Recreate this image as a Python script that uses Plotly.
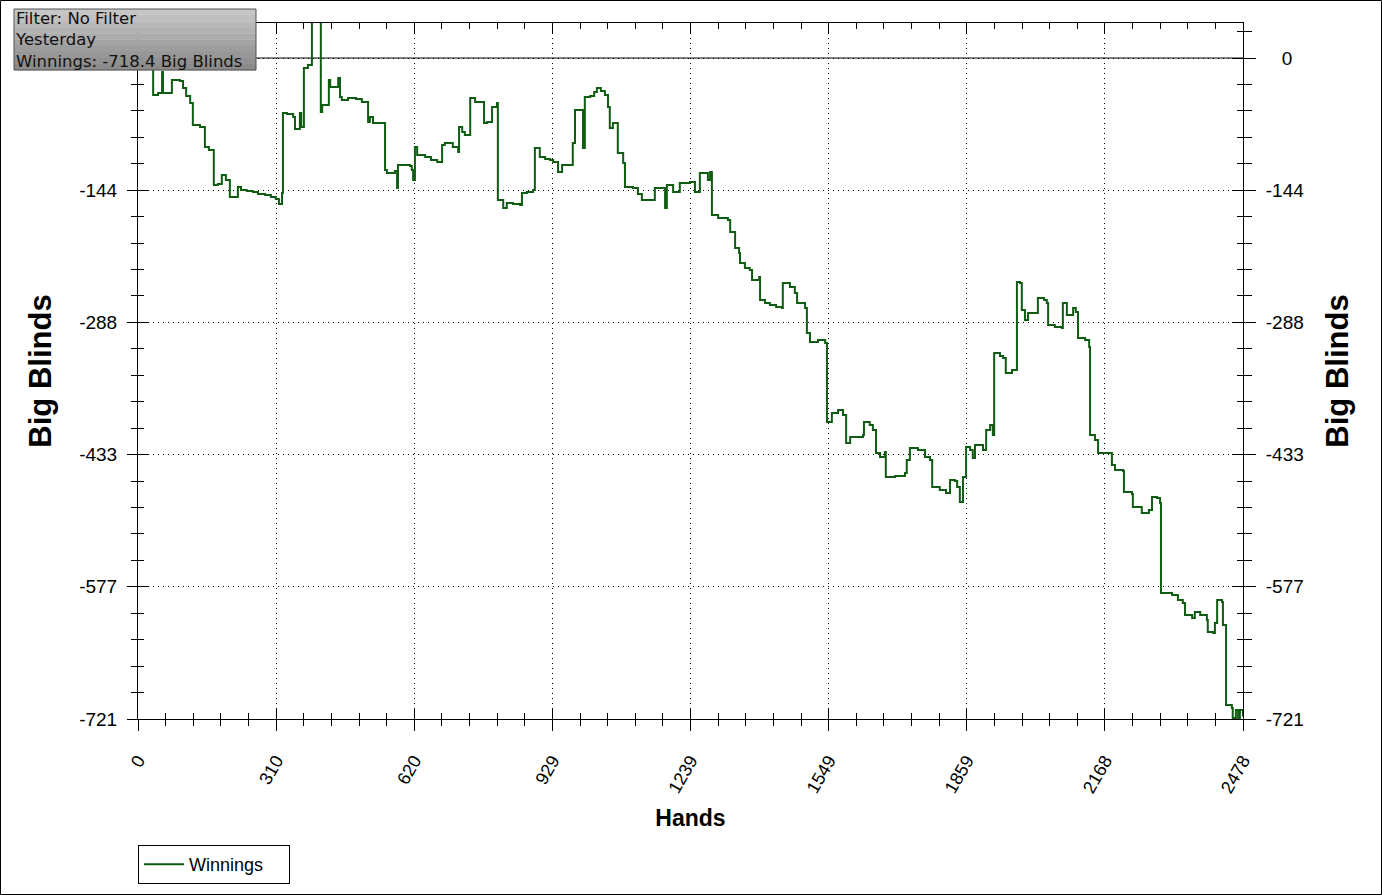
import plotly.graph_objects as go

# ---- data (hand index where the running total changes, new total in big blinds) ----
hands = [0, 9, 18, 27, 34, 45, 54, 56, 76, 94, 101, 108, 117, 123, 139, 150, 159, 170, 179, 188,
         197, 206, 224, 231, 244, 258, 269, 285, 298, 309, 316, 323, 325, 334, 348, 352, 363, 366,
         372, 381, 390, 410, 413, 428, 431, 449, 453, 457, 471, 489, 502, 516, 520, 527, 554, 558,
         576, 581, 583, 610, 614, 617, 621, 626, 644, 657, 671, 682, 688, 706, 718, 720, 727, 733,
         745, 756, 776, 783, 794, 805, 807, 819, 827, 841, 857, 861, 872, 886, 890, 901, 913, 924,
         931, 942, 951, 975, 980, 998, 1002, 1014, 1023, 1029, 1038, 1047, 1054, 1058, 1065, 1076,
         1088, 1092, 1110, 1121, 1130, 1159, 1182, 1186, 1200, 1215, 1238, 1249, 1260, 1278, 1283,
         1287, 1301, 1323, 1328, 1339, 1348, 1350, 1361, 1372, 1377, 1393, 1395, 1406, 1417, 1431,
         1444, 1446, 1462, 1473, 1478, 1496, 1500, 1507, 1525, 1541, 1545, 1556, 1570, 1581, 1588,
         1597, 1626, 1628, 1641, 1648, 1655, 1664, 1675, 1677, 1698, 1720, 1724, 1731, 1749, 1765,
         1776, 1781, 1798, 1812, 1821, 1832, 1837, 1843, 1850, 1857, 1866, 1872, 1877, 1895, 1902,
         1911, 1917, 1920, 1933, 1940, 1946, 1960, 1971, 1978, 1982, 1989, 1996, 2018, 2032, 2038,
         2041, 2056, 2072, 2074, 2083, 2097, 2103, 2108, 2124, 2133, 2135, 2146, 2153, 2184, 2191,
         2209, 2211, 2229, 2231, 2251, 2267, 2274, 2285, 2292, 2294, 2319, 2332, 2343, 2348, 2364,
         2370, 2382, 2397, 2399, 2411, 2415, 2420, 2431, 2433, 2440, 2453, 2455, 2462, 2467, 2471,
         2478]
winnings = [0, -4.4, -8.7, -10.9, -40.4, -38.2, -15.3, -38.2, -24.0, -25.1, -32.7, -41.5, -49.1,
            -73.1, -75.3, -97.1, -100.4, -138.5, -137.4, -127.6, -133.1, -151.6, -140.7, -144.0,
            -145.1, -146.2, -148.3, -149.4, -151.6, -153.8, -159.3, -147.3, -60.0, -61.1, -64.4,
            -77.4, -60.0, -75.3, -10.9, -7.6, 46.9, -58.9, -51.3, -24.0, -31.6, -21.8, -42.5, -45.8,
            -43.6, -44.7, -48.0, -69.8, -64.4, -70.9, -122.2, -125.4, -123.3, -141.8, -116.7, -117.8,
            -122.2, -133.1, -97.1, -105.8, -108.0, -111.3, -113.4, -94.9, -92.7, -97.1, -102.5,
            -75.3, -80.7, -84.0, -43.6, -48.0, -70.9, -69.8, -53.4, -49.1, -154.9, -163.6, -158.2,
            -159.3, -160.3, -147.3, -146.2, -144.0, -98.2, -108.0, -110.2, -111.3, -113.4, -124.4,
            -116.7, -92.7, -56.7, -98.2, -42.5, -41.5, -37.1, -32.7, -36.0, -40.4, -53.4, -76.4,
            -70.9, -103.6, -114.5, -140.7, -141.8, -148.3, -154.9, -141.8, -163.6, -138.5, -146.2,
            -136.4, -135.3, -146.2, -125.4, -133.1, -124.4, -171.3, -174.5, -176.7, -189.8, -207.3,
            -212.7, -223.6, -229.1, -231.2, -242.2, -238.9, -264.0, -267.2, -269.4, -271.6, -272.7,
            -245.4, -249.8, -256.3, -267.2, -272.7, -300.0, -309.8, -307.6, -310.9, -397.1, -387.2,
            -384.0, -389.4, -420.0, -413.4, -411.2, -397.1, -400.3, -405.8, -430.9, -435.2, -429.8,
            -457.0, -456.0, -452.7, -438.5, -425.4, -427.6, -435.2, -438.5, -467.9, -471.2, -474.5,
            -460.3, -461.4, -467.9, -484.3, -457.0, -424.3, -427.6, -436.3, -422.1, -427.6, -405.8,
            -400.3, -411.2, -321.8, -325.1, -327.2, -343.6, -340.3, -244.3, -245.4, -274.9, -285.8,
            -278.2, -261.8, -264.0, -267.2, -291.2, -293.4, -294.5, -267.2, -280.3, -272.7, -277.1,
            -305.4, -307.6, -315.2, -411.2, -416.7, -430.9, -443.9, -449.4, -450.5, -473.4, -475.6,
            -489.8, -496.3, -493.0, -478.9, -480.0, -485.4, -583.6, -585.8, -591.2, -594.5, -607.6,
            -610.8, -604.3, -607.6, -613.0, -626.1, -627.2, -616.3, -591.2, -593.4, -618.5, -705.8,
            -709.0, -719.9, -711.2, -719.9, -711.2, -718.4]

x_tickvals = [0, 309.75, 619.5, 929.25, 1239, 1548.75, 1858.5, 2168.25, 2478]
x_ticktext = ["0", "310", "620", "929", "1239", "1549", "1859", "2168", "2478"]
y_tickvals = [-721, -576.8, -432.6, -288.4, -144.2, 0]
y_ticktext_left = ["-721", "-577", "-433", "-288", "-144", ""]   # left "0" is hidden by the info box
y_ticktext_right = ["-721", "-577", "-433", "-288", "-144", "\u2007\u00a00"]

X_RANGE = [0, 2478]
Y_RANGE = [-721, 38.2]
FONT = "Liberation Sans, Arial, sans-serif"
GREEN = "#0f5c12"

fig = go.Figure()
fig.add_trace(go.Scatter(x=hands, y=winnings, mode="lines", name="Winnings",
                         line=dict(color=GREEN, width=2, shape="hv"),
                         xaxis="x", yaxis="y"))
# invisible helper traces so that the overlay axes (ticks on both sides) are drawn
fig.add_trace(go.Scatter(x=hands[:1], y=winnings[:1], mode="markers", opacity=0,
                         showlegend=False, hoverinfo="skip", xaxis="x2", yaxis="y2"))
fig.add_trace(go.Scatter(x=hands[:1], y=winnings[:1], mode="markers", opacity=0,
                         showlegend=False, hoverinfo="skip", xaxis="x", yaxis="y3"))

common_x = dict(range=X_RANGE, tickmode="array", tickvals=x_tickvals, zeroline=False,
                showline=True, linecolor="black", linewidth=1, tickcolor="black", tickwidth=1,
                fixedrange=True)
common_y = dict(range=Y_RANGE, tickmode="array", tickvals=y_tickvals, zeroline=False,
                showline=True, linecolor="black", linewidth=1, tickcolor="black", tickwidth=1,
                fixedrange=True)

fig.update_layout(
    width=1382, height=895,
    margin=dict(l=138, r=139, t=23, b=176, autoexpand=False),
    paper_bgcolor="white", plot_bgcolor="white",
    font=dict(family=FONT, color="black", size=19),
    showlegend=True,
    legend=dict(x=0, y=-0.181, xanchor="left", yanchor="top", bordercolor="black",
                borderwidth=1, bgcolor="white", font=dict(size=18, family=FONT),
                orientation="h", itemwidth=40, entrywidth=95, entrywidthmode="pixels"),
    xaxis=dict(**common_x, ticktext=x_ticktext, ticks="outside", ticklen=11,
               tickangle=-60, tickfont=dict(size=18), ticklabelstandoff=12,
               showgrid=True, gridcolor="black", gridwidth=1, griddash="1px,4px",
               minor=dict(tick0=0, dtick=61.95, ticks="outside", ticklen=6,
                          tickcolor="black", showgrid=False),
               title=dict(text="<b>Hands</b>", font=dict(size=23, family=FONT), standoff=14)),
    xaxis2=dict(**common_x, overlaying="x", side="bottom", ticks="inside", ticklen=11,
                showticklabels=False, showgrid=False, mirror="ticks",
                minor=dict(tick0=0, dtick=61.95, ticks="inside", ticklen=6,
                           tickcolor="black", showgrid=False)),
    yaxis=dict(**common_y, ticktext=y_ticktext_left, ticks="outside", ticklen=10,
               tickfont=dict(size=19), ticklabelstandoff=6,
               showgrid=True, gridcolor="black", gridwidth=1, griddash="1px,4px",
               minor=dict(tick0=-721, dtick=28.84, ticks="outside", ticklen=6,
                          tickcolor="black", showgrid=False),
               title=dict(text="<b>Big Blinds</b>", font=dict(size=31, family=FONT), standoff=18)),
    yaxis2=dict(**common_y, ticktext=y_ticktext_right, overlaying="y", side="right",
                ticks="outside", ticklen=12, tickfont=dict(size=19), ticklabelstandoff=6,
                showgrid=False,
                minor=dict(tick0=-721, dtick=28.84, ticks="outside", ticklen=8,
                           tickcolor="black", showgrid=False),
                title=dict(text="<b>Big Blinds</b>", font=dict(size=31, family=FONT), standoff=23)),
    yaxis3=dict(**common_y, overlaying="y", side="left", ticks="inside", ticklen=11,
                showticklabels=False, showgrid=False, mirror="ticks",
                minor=dict(tick0=-721, dtick=28.84, ticks="inside", ticklen=6,
                           tickcolor="black", showgrid=False)),
)

# solid line at zero
fig.add_shape(type="line", xref="paper", yref="y", x0=0, x1=1, y0=0, y1=0,
              line=dict(color="black", width=1), layer="below")

# outer frame around the whole picture
fig.add_shape(type="rect", xref="paper", yref="paper",
              x0=-137.5 / 1105, x1=1243.5 / 1105, y0=-175.5 / 696, y1=718.5 / 696,
              line=dict(color="black", width=1), fillcolor="rgba(0,0,0,0)", layer="above")

# info box: grey gradient background (light at top, darker at bottom)
BOX_X0, BOX_X1 = (14 - 138) / 1105, (256 - 138) / 1105
BOX_TOP, BOX_BOTTOM = (719 - 9) / 696, (719 - 70) / 696
band_colors = ["#c6c6c6", "#c0c0c0", "#b9b9b9", "#b2b2b2", "#ababab", "#a4a4a4",
               "#9d9d9d", "#979797", "#919191", "#8b8b8b"]
n_b = len(band_colors)
for i, c in enumerate(band_colors):
    y1 = BOX_TOP - (BOX_TOP - BOX_BOTTOM) * i / n_b
    y0 = BOX_TOP - (BOX_TOP - BOX_BOTTOM) * (i + 1) / n_b
    fig.add_shape(type="rect", xref="paper", yref="paper", x0=BOX_X0, x1=BOX_X1,
                  y0=y0 - 0.0005, y1=y1, line=dict(width=0), fillcolor=c, layer="above")
fig.add_shape(type="rect", xref="paper", yref="paper", x0=BOX_X0, x1=BOX_X1,
              y0=BOX_BOTTOM, y1=BOX_TOP, line=dict(color="#505050", width=1),
              fillcolor="rgba(0,0,0,0)", layer="above")

fig.add_annotation(xref="paper", yref="paper", x=(15 - 138) / 1105, y=(719 - 9) / 696,
                   xanchor="left", yanchor="top", align="left", showarrow=False,
                   text="Filter: No Filter<br>Yesterday<br>Winnings: -718.4 Big Blinds",
                   font=dict(family="DejaVu Sans, Verdana, sans-serif", size=16.5, color="#111111"),
                   bgcolor="rgba(0,0,0,0)", borderwidth=0, borderpad=0)

fig.write_html("out.html", config={"displayModeBar": False},
               post_script="document.body.style.margin='0';")
